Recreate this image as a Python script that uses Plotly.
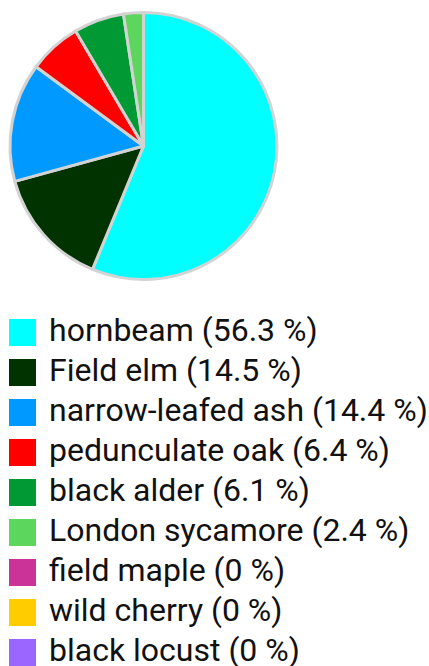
import plotly.graph_objects as go

species = ["hornbeam", "Field elm", "narrow-leafed ash", "pedunculate oak",
           "black alder", "London sycamore", "field maple", "wild cherry", "black locust"]
shares = [56.3, 14.5, 14.4, 6.4, 6.1, 2.4, 0, 0, 0]
colors = ["#00FFFF", "#003300", "#0099FF", "#FF0000", "#009933",
          "#5CD65C", "#CC3399", "#FFCC00", "#9966FF"]
title_text = "Trees by species (N %)"

W, H = 429, 666
FONT = "Roboto"

labels = [f"{s} ({v:g} %)" for s, v in zip(species, shares)]
idx = list(range(len(species)))

fig = go.Figure()

fig.add_trace(go.Pie(
    labels=species, values=shares, sort=False, direction="clockwise", rotation=0,
    marker=dict(colors=colors, line=dict(color="#D3D3D3", width=3)),
    textinfo="none", hoverinfo="label+percent", showlegend=False,
    domain=dict(x=[10 / W, 277 / W], y=[1 - 281 / H, 1 - 11 / H]),
))

# legend swatches
fig.add_trace(go.Scatter(
    x=[22.5] * len(idx), y=idx, mode="markers",
    marker=dict(symbol="square", size=27, color=colors, line=dict(width=0)),
    hoverinfo="skip", showlegend=False, xaxis="x", yaxis="y",
))
# legend texts
fig.add_trace(go.Scatter(
    x=[49] * len(idx), y=idx, mode="text", text=labels,
    textposition="middle right",
    textfont=dict(family=FONT, size=32, color="#111111"),
    hoverinfo="skip", showlegend=False, xaxis="x", yaxis="y",
))

row_px = 40.0
first_px = 332.5
fig.update_layout(
    width=W, height=H,
    margin=dict(l=0, r=0, t=0, b=0),
    paper_bgcolor="white", plot_bgcolor="rgba(0,0,0,0)",
    xaxis=dict(range=[0, W], domain=[0, 1], visible=False, fixedrange=True),
    yaxis=dict(range=[(H - first_px) / row_px, -first_px / row_px], domain=[0, 1],
               visible=False, fixedrange=True),
    annotations=[dict(
        text=f"<b>{title_text}</b>", xref="paper", yref="paper",
        x=327 / W, y=1, xanchor="right", yanchor="bottom", yshift=-3,
        showarrow=False, font=dict(family=FONT, size=28, color="#111111"),
    )],
    font=dict(family=FONT),
)

fig.write_html("out.html", config={"displayModeBar": False},
               post_script="document.body.style.margin='0';document.body.style.overflow='hidden';")
